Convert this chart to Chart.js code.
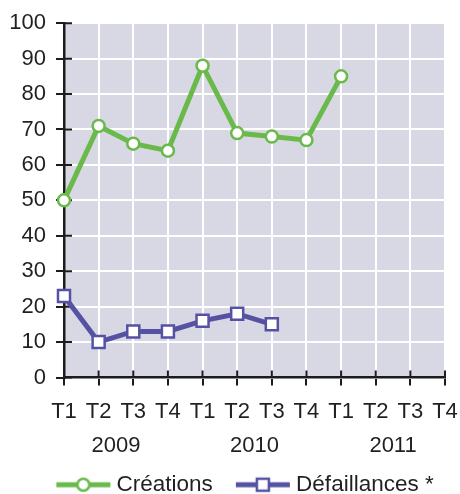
<!DOCTYPE html>
<html>
<head>
<meta charset="utf-8">
<script src="https://cdn.jsdelivr.net/npm/chart.js@4"></script>
<style>
  html, body { margin: 0; padding: 0; background: #ffffff; overflow: hidden; }
  #wrap { width: 460px; height: 494px; position: relative; }
</style>
</head>
<body>
<div id="wrap"><canvas id="c"></canvas></div>
<script>
// ---- data ----
const categories = ['T1','T2','T3','T4','T1','T2','T3','T4','T1','T2','T3','T4'];
const years = ['2009', '2010', '2011'];
const yearCenters = [1.5, 5.5, 9.5];          // category index at the middle of each year
const seriesNames = ['Créations', 'Défaillances *'];
const creations    = [50, 71, 66, 64, 88, 69, 68, 67, 85, null, null, null];
const defaillances = [23, 10, 13, 13, 16, 18, 15, null, null, null, null, null];
const yMin = 0, yMax = 100, yStep = 10;

// ---- styles ----
const GREEN = '#6ab94b';
const PURPLE = '#5652a3';
const PLOT_BG = '#d8d8e4';
const AXIS = '#1c1c1c';
const TEXT = '#231f20';
const FONT = "'Liberation Sans', Arial, sans-serif";

function legendIcon(color, style) {
  const c = document.createElement('canvas');
  c.width = 84; c.height = 20;
  const g = c.getContext('2d');
  g.strokeStyle = color; g.lineWidth = 5;
  g.beginPath(); g.moveTo(29, 10); g.lineTo(83, 10); g.stroke();
  g.fillStyle = '#fff'; g.lineWidth = 2.5;
  if (style === 'circle') {
    g.beginPath(); g.arc(56, 10, 6, 0, Math.PI * 2); g.fill(); g.stroke();
  } else {
    g.beginPath(); g.rect(50, 4, 12, 12); g.fill(); g.stroke();
  }
  return c;
}
const icons = [legendIcon(GREEN, 'circle'), legendIcon(PURPLE, 'rect')];

const plotBg = {
  id: 'plotBg',
  beforeDraw(chart) {
    const {ctx, chartArea: a} = chart;
    ctx.save();
    ctx.fillStyle = PLOT_BG;
    ctx.fillRect(a.left, a.top, a.right - a.left, a.bottom - a.top);
    ctx.restore();
  },
  beforeDatasetsDraw(chart) {
    const {ctx, chartArea: a, scales: {x, y}} = chart;
    ctx.save();
    ctx.strokeStyle = AXIS; ctx.lineWidth = 2;
    ctx.beginPath();
    y.ticks.forEach((t, i) => { const py = y.getPixelForTick(i); ctx.moveTo(a.left, py); ctx.lineTo(a.left + 8, py); });
    x.ticks.forEach((t, i) => { const px = x.getPixelForTick(i); ctx.moveTo(px, a.bottom); ctx.lineTo(px, a.bottom - 7); });
    ctx.stroke();
    ctx.restore();
  }
};

new Chart(document.getElementById('c'), {
  type: 'line',
  data: {
    labels: categories,
    datasets: [
      {
        label: seriesNames[0], data: creations,
        borderColor: GREEN, borderWidth: 5, tension: 0,
        pointStyle: 'circle', pointRadius: 6, pointHoverRadius: 6,
        pointBorderWidth: 2.5, pointBackgroundColor: '#fff', pointBorderColor: GREEN,
        clip: false
      },
      {
        label: seriesNames[1], data: defaillances,
        borderColor: PURPLE, borderWidth: 5, tension: 0,
        pointStyle: 'rect', pointRadius: 8.5, pointHoverRadius: 8.5,
        pointBorderWidth: 2.5, pointBackgroundColor: '#fff', pointBorderColor: PURPLE,
        clip: false
      }
    ]
  },
  options: {
    responsive: true,
    maintainAspectRatio: false,
    animation: false,
    layout: { padding: { left: 9, right: 2, top: 12, bottom: -12 } },
    scales: {
      x: {
        type: 'category',
        offset: false,
        position: 'bottom',
        grid: { color: '#ffffff', lineWidth: 2, tickLength: 8, tickColor: AXIS, tickWidth: 2, drawTicks: true },
        border: { display: true, color: AXIS, width: 2.5 },
        ticks: { color: TEXT, font: { family: FONT, size: 22 }, padding: 13, autoSkip: false, maxRotation: 0 },
        afterFit(axis) { axis.height = 45; axis.paddingLeft = 0; axis.paddingRight = 0; }
      },
      years: {
        type: 'linear',
        position: 'bottom',
        min: 0, max: categories.length - 1,
        grid: { display: false, drawTicks: false },
        border: { display: false },
        afterBuildTicks(axis) { axis.ticks = yearCenters.map(v => ({ value: v })); },
        afterFit(axis) { axis.height = 51; axis.paddingLeft = 0; axis.paddingRight = 0; },
        ticks: {
          color: TEXT, font: { family: FONT, size: 22 }, padding: 10, autoSkip: false, maxRotation: 0,
          callback(v) { const i = yearCenters.indexOf(v); return i >= 0 ? years[i] : ''; }
        }
      },
      y: {
        min: yMin, max: yMax,
        grid: { color: '#ffffff', lineWidth: 2, tickLength: 8, tickColor: AXIS, tickWidth: 2 },
        border: { display: true, color: AXIS, width: 2.5 },
        ticks: { stepSize: yStep, color: TEXT, font: { family: FONT, size: 22 }, padding: 10 },
        afterFit(axis) { axis.width = 55; }
      },
      rightGap: {
        type: 'linear',
        position: 'right',
        display: true,
        grid: { display: false, drawTicks: false },
        border: { display: false },
        ticks: { display: false },
        afterFit(axis) { axis.width = 13; axis.paddingTop = 0; axis.paddingBottom = 0; }
      }
    },
    plugins: {
      tooltip: { enabled: false },
      legend: {
        position: 'bottom',
        labels: {
          usePointStyle: true,
          pointStyleWidth: 72,
          padding: 0,
          color: TEXT,
          font: { family: FONT, size: 22.5 },
          generateLabels(chart) {
            return chart.data.datasets.map((ds, i) => ({
              text: ds.label, pointStyle: icons[i], datasetIndex: i, hidden: false,
              fontColor: TEXT, lineWidth: 0, strokeStyle: 'rgba(0,0,0,0)', fillStyle: 'rgba(0,0,0,0)'
            }));
          }
        }
      }
    }
  },
  plugins: [plotBg]
});
</script>
</body>
</html>
